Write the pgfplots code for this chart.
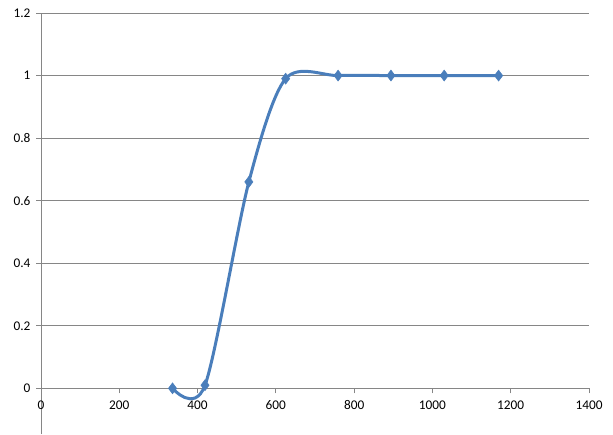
\documentclass[border=0pt]{standalone}
\usepackage{fontspec}
\setmainfont{Carlito}
\usepackage{pgfplots}
\pgfplotsset{compat=1.18}
\definecolor{exblue}{RGB}{74,126,187}
\definecolor{exgray}{RGB}{134,134,134}
\begin{document}
\begin{tikzpicture}
\begin{axis}[
  name=ax,
  scale only axis,
  width=548pt, height=421pt,
  xmin=0, xmax=1400, ymin=-0.146, ymax=1.2,
  axis x line=middle, axis y line=left,
  axis line style={exgray, line width=0.8pt, -},
  tick align=outside,
  major tick length=5pt,
  tick style={exgray, line width=0.8pt},
  xtick={0,200,400,600,800,1000,1200,1400},
  ytick={0,0.2,0.4,0.6,0.8,1,1.2},
  yticklabels={0,0.2,0.4,0.6,0.8,1,1.2},
  hide obscured x ticks=false, hide obscured y ticks=false,
  ymajorgrids,
  grid style={exgray, line width=0.8pt},
  /pgf/number format/1000 sep={},
  /pgf/number format/assume math mode=true,
  tick label style={font=\fontsize{13.3}{15}\selectfont, text=black},
  xticklabel style={yshift=-4pt},
  yticklabel style={xshift=-2pt},
  clip=false,
]
\addplot[exblue, line width=3pt, smooth, tension=0.5, mark=diamond*, mark size=5.5pt,
  mark options={fill=exblue, draw=exblue, line width=0.5pt}]
  coordinates {(336,0) (419,0.01) (531,0.66) (625,0.99) (759,1) (894,1) (1030,1) (1169,1)};
\end{axis}
\pgfresetboundingbox
\path ([xshift=-41pt]ax.south west) rectangle ([xshift=24pt,yshift=13pt]ax.north east);
\end{tikzpicture}
\end{document}
